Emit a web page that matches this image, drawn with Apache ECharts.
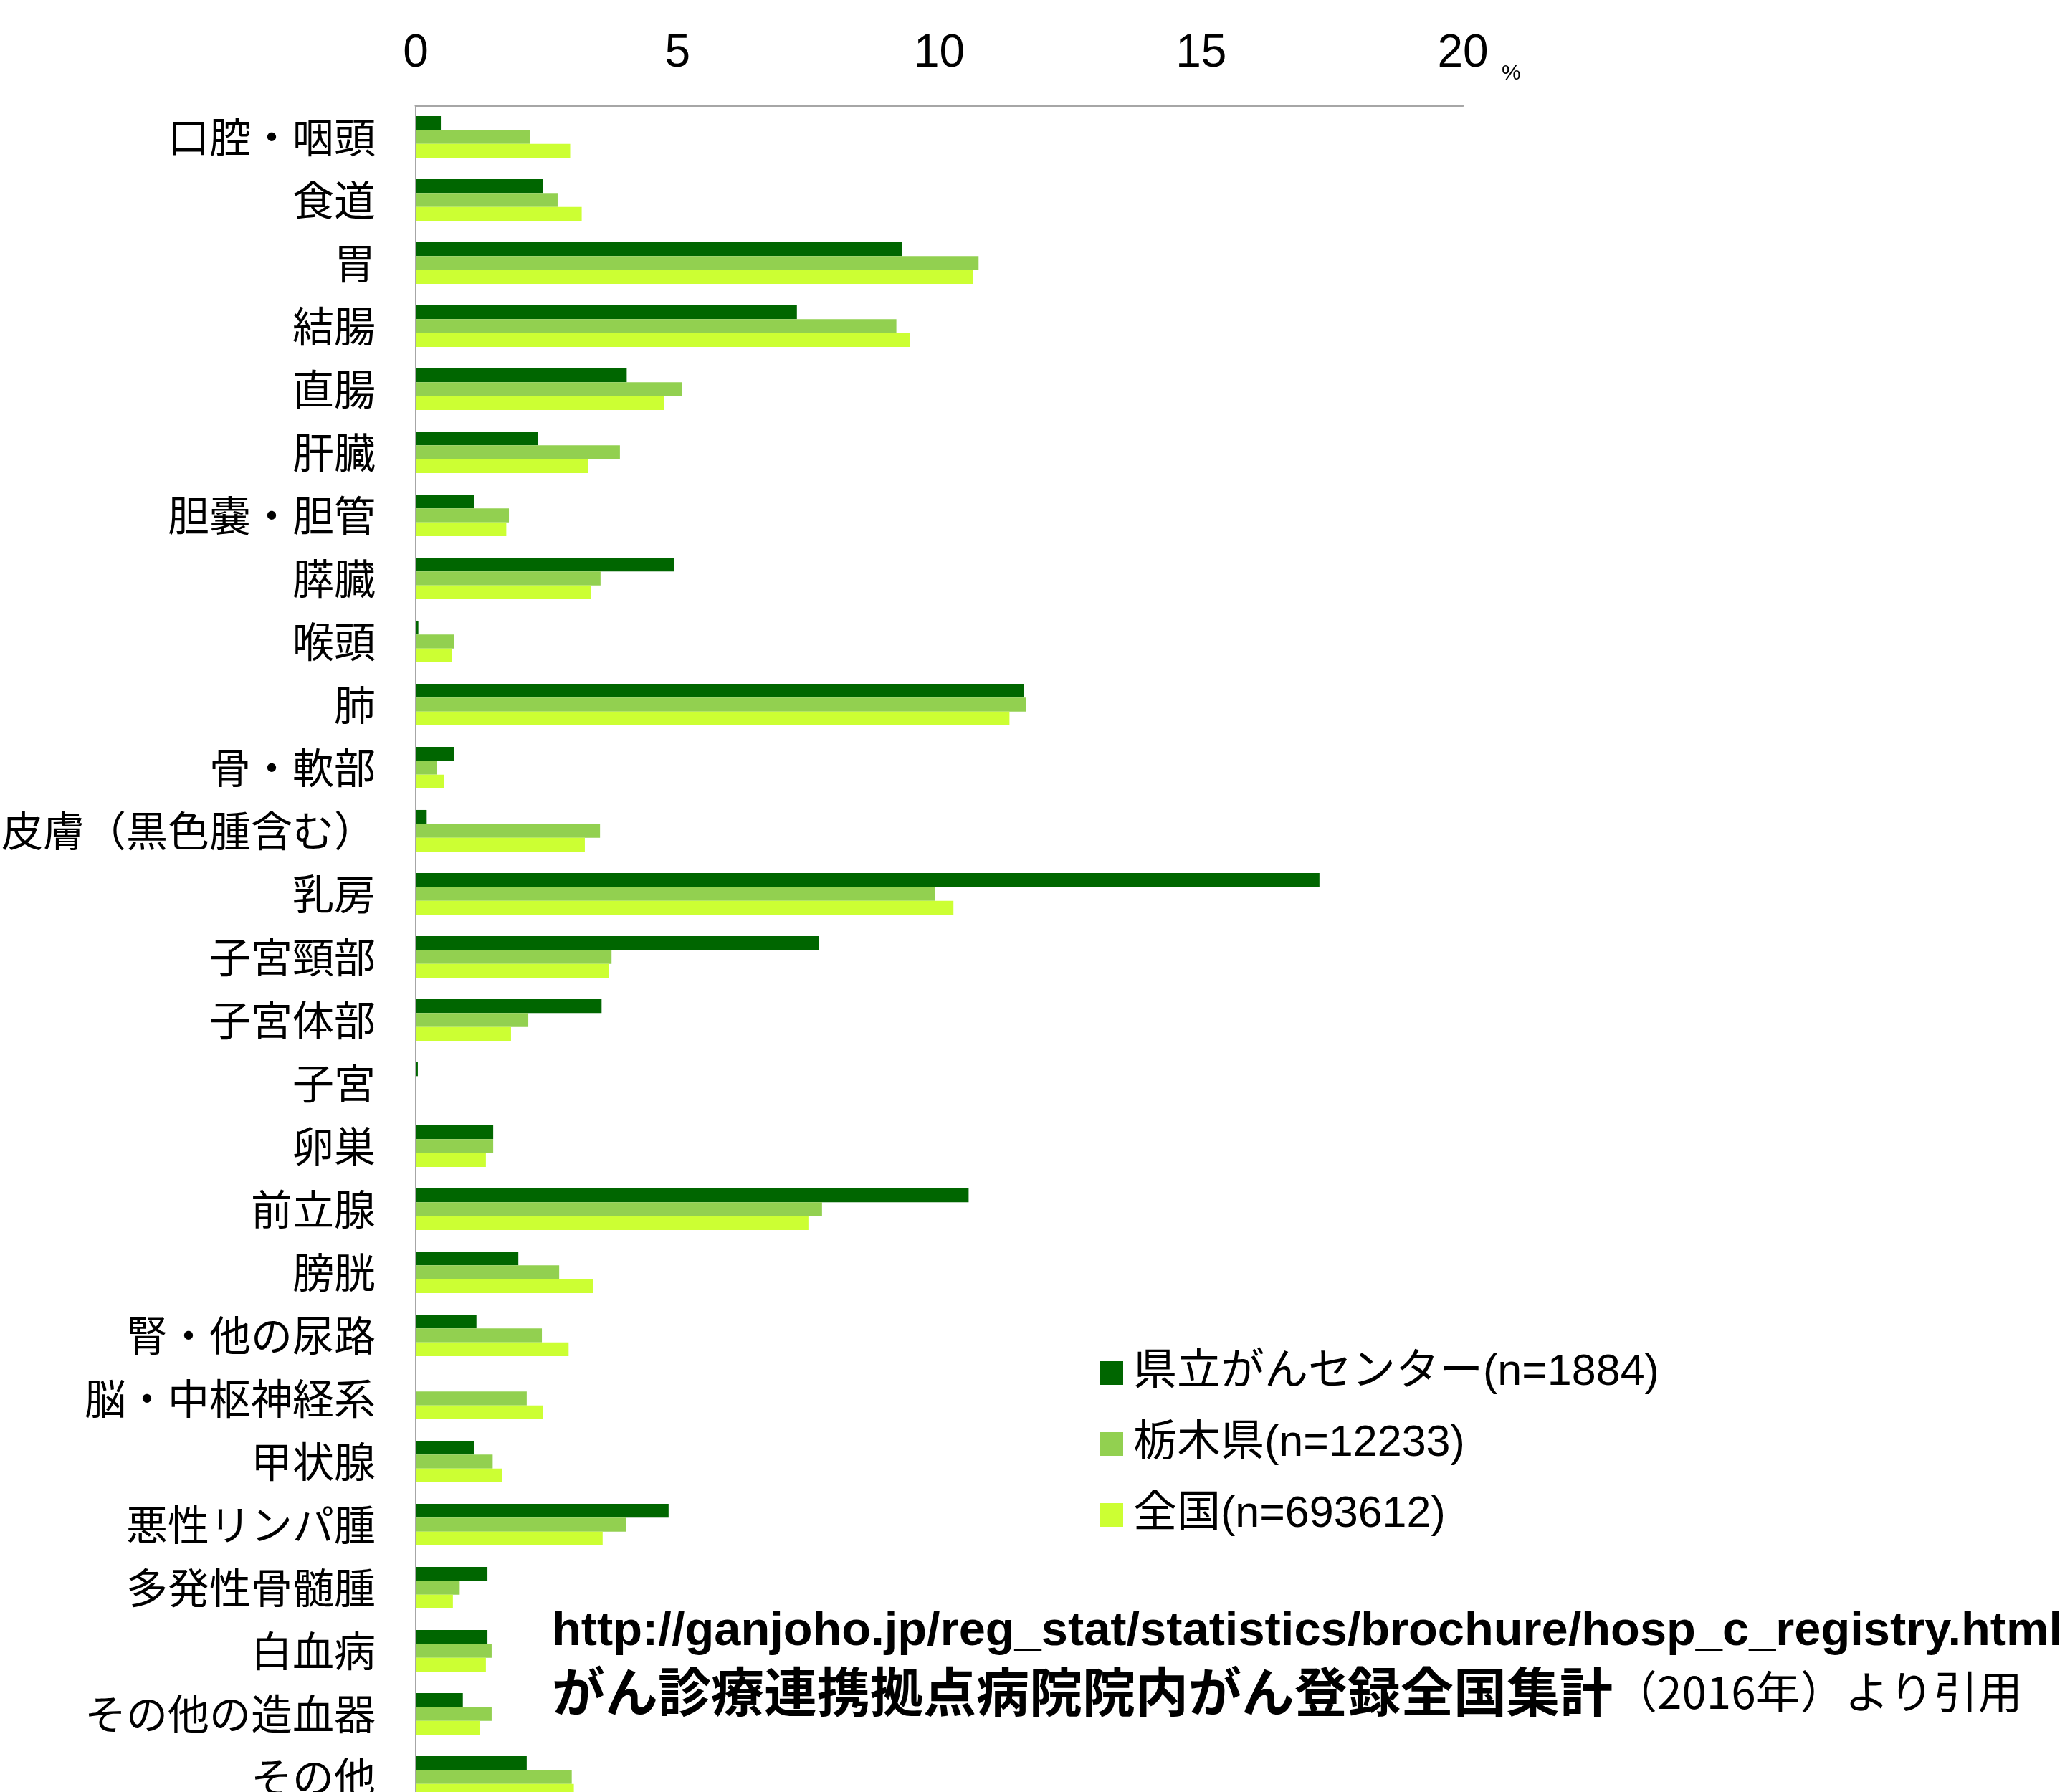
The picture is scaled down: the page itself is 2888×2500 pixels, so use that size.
<!DOCTYPE html>
<html>
<head>
<meta charset="utf-8">
<script src="https://cdn.jsdelivr.net/npm/echarts@6/dist/echarts.min.js"></script>
<style>
  html, body { margin: 0; padding: 0; background: #fff; }
  #chart { width: 2888px; height: 2500px; }
</style>
</head>
<body>
<div id="chart"></div>
<script>
// 部位別の割合 (%)
const categories = ['口腔・咽頭', '食道', '胃', '結腸', '直腸', '肝臓', '胆嚢・胆管', '膵臓', '喉頭', '肺',
  '骨・軟部', '皮膚（黒色腫含む）', '乳房', '子宮頸部', '子宮体部', '子宮', '卵巣', '前立腺', '膀胱',
  '腎・他の尿路', '脳・中枢神経系', '甲状腺', '悪性リンパ腫', '多発性骨髄腫', '白血病', 'その他の造血器', 'その他'];

const seriesNames = ['県立がんセンター(n=1884)', '栃木県(n=12233)', '全国(n=693612)'];

const centerVals = [0.48, 2.43, 9.29, 7.28, 4.03, 2.33, 1.11, 4.93, 0.05, 11.62,
  0.73, 0.21, 17.26, 7.70, 3.55, 0.04, 1.48, 10.56, 1.96,
  1.16, 0, 1.11, 4.83, 1.37, 1.37, 0.90, 2.12];
const tochigiVals = [2.19, 2.71, 10.75, 9.18, 5.09, 3.90, 1.78, 3.53, 0.73, 11.65,
  0.41, 3.52, 9.92, 3.74, 2.15, 0, 1.48, 7.76, 2.74,
  2.41, 2.12, 1.47, 4.02, 0.84, 1.45, 1.45, 2.98];
const nationVals = [2.95, 3.17, 10.65, 9.44, 4.74, 3.29, 1.73, 3.34, 0.69, 11.34,
  0.54, 3.23, 10.27, 3.69, 1.82, 0, 1.34, 7.50, 3.39,
  2.92, 2.43, 1.65, 3.57, 0.71, 1.34, 1.22, 3.02];

const xTicks = [0, 20, 5]; // min, max, interval

const colors = ['#006600', '#92D050', '#CCFF33'];
const jp = '"Noto Sans CJK JP", sans-serif';
const latin = '"Liberation Sans", "Noto Sans CJK JP", sans-serif';

const chart = echarts.init(document.getElementById('chart'));

const allVals = [centerVals, tochigiVals, nationVals];

chart.setOption({
  animation: false,
  backgroundColor: '#fff',
  // the chart runs past the bottom edge in the original, so don't keep it inside
  grid: { left: 580, top: 147, width: 1461, height: 2376, containLabel: false, outerBoundsMode: 'none' },
  xAxis: {
    type: 'value',
    position: 'top',
    min: xTicks[0],
    max: xTicks[1],
    interval: xTicks[2],
    axisLine: { show: true, lineStyle: { color: '#a6a6a6', width: 3 } },
    axisTick: { show: false },
    splitLine: { show: false },
    axisLabel: { margin: 40, fontSize: 64, color: '#000', fontFamily: latin }
  },
  yAxis: {
    type: 'category',
    inverse: true,
    data: categories,
    axisLine: { show: true, lineStyle: { color: '#a6a6a6', width: 2 } },
    axisTick: { show: false },
    axisLabel: { margin: 56, fontSize: 58, color: '#000', fontFamily: jp }
  },
  legend: {
    orient: 'vertical',
    left: 1529,
    top: 1880,
    icon: 'rect',
    itemWidth: 33,
    itemHeight: 33,
    itemGap: 38,
    textStyle: { fontSize: 61, color: '#000', fontFamily: latin, padding: [0, 0, 0, 9] },
    data: seriesNames
  },
  series: seriesNames.map((name, i) => ({
    name: name,
    type: 'bar',
    data: allVals[i],
    barGap: '0%',
    barCategoryGap: '34%',
    itemStyle: { color: colors[i] }
  })),
  graphic: [
    {
      type: 'text', left: 2095, top: 88,
      style: { text: '%', fontSize: 30, fontFamily: latin, fill: '#000' }
    },
    {
      type: 'text', x: 770, y: 2277,
      style: {
        text: 'http://ganjoho.jp/reg_stat/statistics/brochure/hosp_c_registry.html',
        fontSize: 66.8, fontWeight: 'bold', fontFamily: latin, fill: '#000',
        verticalAlign: 'middle'
      }
    },
    {
      type: 'text', x: 770, y: 2360,
      style: {
        text: '{b|がん診療連携拠点病院院内がん登録全国集計}{r|（2016年）より引用}',
        verticalAlign: 'middle',
        fill: '#000',
        rich: {
          b: { fontSize: 74, fontWeight: 'bold', fontFamily: jp, fill: '#000' },
          r: { fontSize: 62, fontFamily: jp, fill: '#000' }
        }
      }
    }
  ]
});
</script>
</body>
</html>
